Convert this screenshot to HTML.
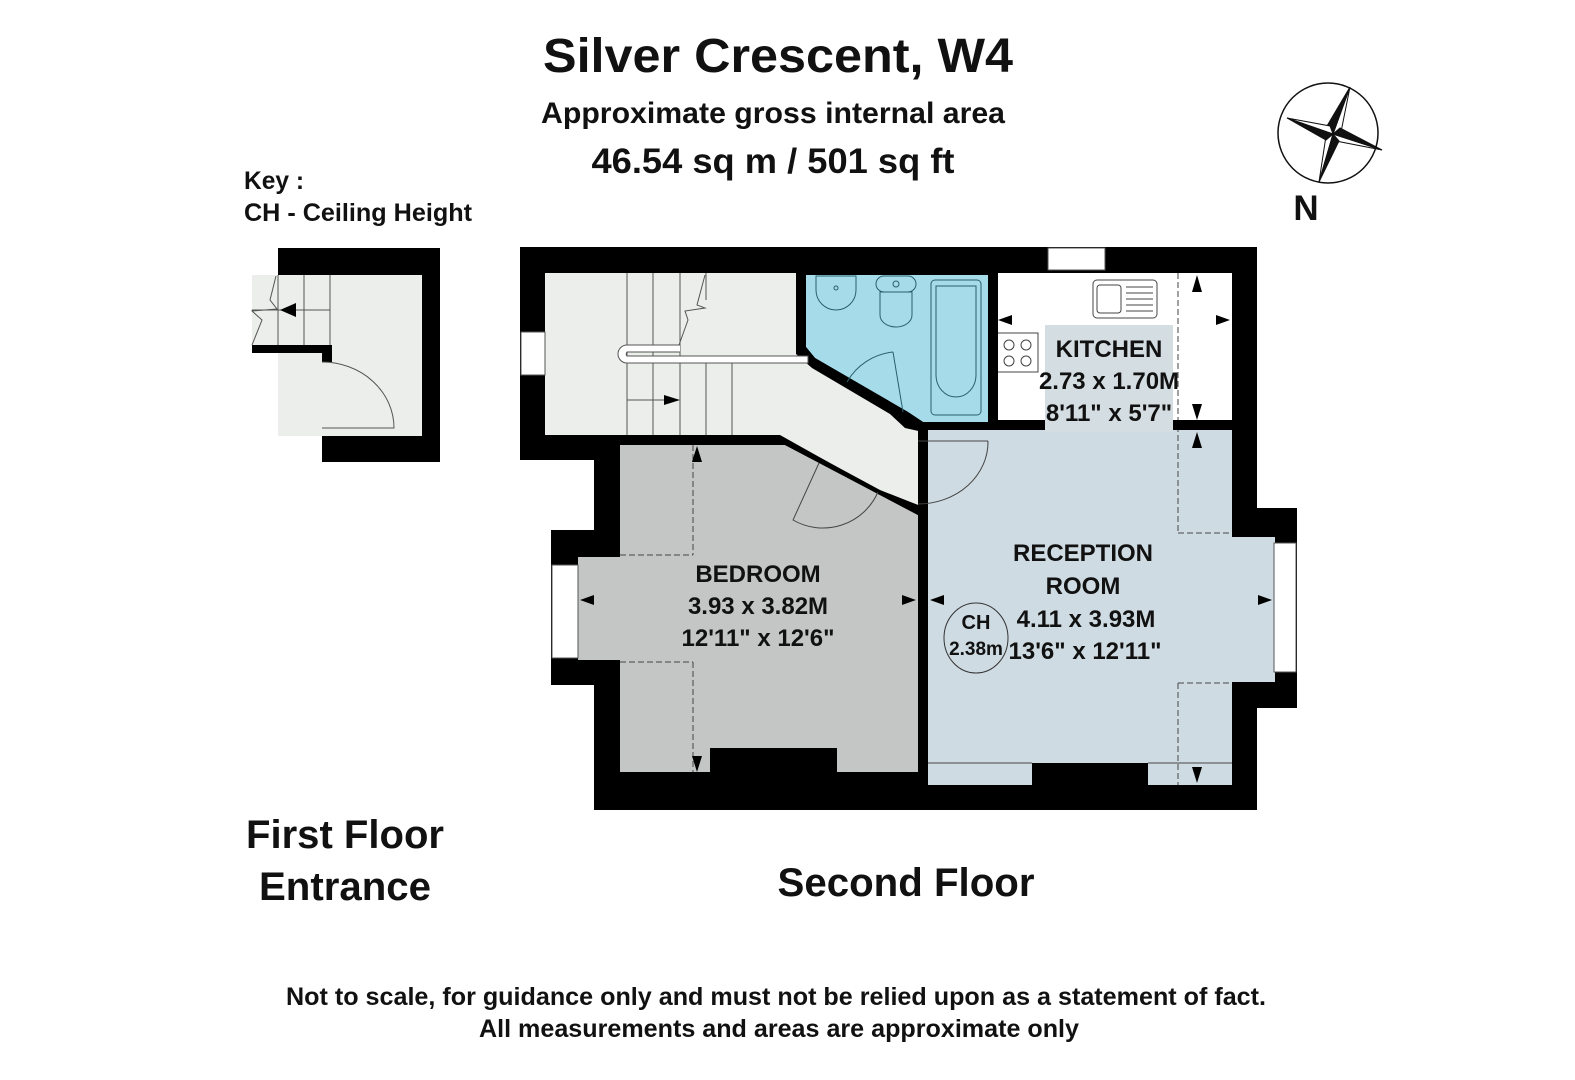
<!DOCTYPE html>
<html><head><meta charset="utf-8"><style>
html,body{margin:0;padding:0;background:#fff;}
svg{display:block;}
text{font-family:"Liberation Sans Narrow","Liberation Sans",sans-serif;font-weight:bold;fill:#111;}
</style></head><body>
<svg width="1575" height="1080" viewBox="0 0 1575 1080" xmlns="http://www.w3.org/2000/svg">
<rect width="1575" height="1080" fill="#fff"/>
<text x="778" y="72" font-size="48" text-anchor="middle" textLength="470" lengthAdjust="spacingAndGlyphs">Silver Crescent, W4</text>
<text x="773" y="123" font-size="30" text-anchor="middle" textLength="464" lengthAdjust="spacingAndGlyphs">Approximate gross internal area</text>
<text x="773" y="173" font-size="35" text-anchor="middle" textLength="363" lengthAdjust="spacingAndGlyphs">46.54 sq m /  501 sq ft</text>
<text x="244" y="189" font-size="25" textLength="60" lengthAdjust="spacingAndGlyphs">Key :</text>
<text x="244" y="221" font-size="25" textLength="228" lengthAdjust="spacingAndGlyphs">CH - Ceiling Height</text>

<circle cx="1328" cy="133" r="50" fill="#fff" stroke="#111" stroke-width="1.5"/>
<g stroke="#111" stroke-width="1">
<polygon points="1350,87 1341,132 1333,134" fill="#fff"/>
<polygon points="1350,87 1327,126 1333,134" fill="#111"/>
<polygon points="1382,150 1336,141 1333,134" fill="#fff"/>
<polygon points="1382,150 1340,128 1333,134" fill="#111"/>
<polygon points="1319,182 1326,136 1333,134" fill="#fff"/>
<polygon points="1319,182 1339,141 1333,134" fill="#111"/>
<polygon points="1287,118 1330,126 1333,134" fill="#fff"/>
<polygon points="1287,118 1326,140 1333,134" fill="#111"/>
</g>
<text x="1306" y="220" font-size="35" text-anchor="middle">N</text>

<!-- entrance -->
<rect x="278" y="248" width="162" height="214" fill="#000"/>
<rect x="240" y="353" width="82" height="110" fill="#fff"/>
<rect x="278" y="275" width="144" height="161" fill="#ebeeea"/>
<rect x="252" y="275" width="80" height="70" fill="#ebeeea"/>
<rect x="332" y="353" width="90" height="83" fill="#ebeeea"/>
<rect x="252" y="345" width="80" height="8" fill="#000"/>
<rect x="322" y="353" width="10" height="10" fill="#000"/>
<rect x="322" y="362" width="12" height="66" fill="#ebeeea"/>
<g stroke="#555" stroke-width="1" fill="none">
<line x1="304" y1="275" x2="304" y2="345"/><line x1="330" y1="275" x2="330" y2="345"/>
<line x1="278" y1="275" x2="278" y2="345"/><line x1="252" y1="310" x2="330" y2="310"/>
<polyline points="276,276 270,300 277,309 252,311 262,320 252,345"/>
<path d="M322,362 A72,66 0 0 1 394,428 L322,428"/>
</g>
<polygon points="280,310 296,303 296,317" fill="#000"/>

<polygon points="520,247 1257,247 1257,508 1297,508 1297,708 1257,708 1257,810 594,810 594,685 551,685 551,530 594,530 594,460 520,460" fill="#000"/>
<polygon points="545,273 796,273 796,348 815,362 905,416 918,430 918,505 878,490 780,435 545,435" fill="#ebeeea"/>
<polygon points="806,275 988,275 988,422 923,422 908,412 815,358 806,347" fill="#a6dcea"/>
<polygon points="796,348 806,347 815,358 908,412 923,422 923,432 905,428 890,414 812,368 796,354" fill="#000"/>
<rect x="998" y="273" width="234" height="147" fill="#fff"/>
<rect x="1045" y="325" width="128" height="105" fill="#d3dde2"/>
<polygon points="928,430 1232,430 1232,537 1275,537 1275,682 1232,682 1232,785 1148,785 1148,763 1032,763 1032,785 928,785" fill="#cfdbe2"/>
<rect x="1045" y="420" width="128" height="12" fill="#d3dde2"/>
<polygon points="620,445 785,445 918,515 918,772 837,772 837,748 710,748 710,772 620,772 620,660 578,660 578,557 620,557" fill="#c3c6c4"/>
<polygon points="785,445 918,515 918,505 880,490 780,436 620,436 620,445" fill="#000"/>
<rect x="918" y="430" width="10" height="343" fill="#000"/>
<polygon points="820,462 878,492 918,505 918,515 878,494" fill="#000"/>

<g fill="#fff" stroke="#555" stroke-width="1">
<rect x="1048" y="248" width="57" height="22"/>
<rect x="521" y="332" width="24" height="43"/>
<rect x="1274" y="543" width="22" height="129"/>
<rect x="552" y="565" width="26" height="93"/>
</g>
<g stroke="#555" stroke-width="1" fill="none">
<line x1="627" y1="273" x2="627" y2="435"/><line x1="653" y1="273" x2="653" y2="435"/>
<line x1="680" y1="273" x2="680" y2="435"/><line x1="706" y1="362" x2="706" y2="435"/>
<line x1="732" y1="362" x2="732" y2="435"/><line x1="706" y1="273" x2="706" y2="300"/>
<polyline points="705,275 697,305 705,308 685,311 688,320 679,345"/>
<path d="M680,345 L627,345 A9,9 0 0 0 627,363 L808,363 L808,356 L627,356 A3,3 0 0 1 627,352 L680,352" fill="#fff"/>
<line x1="627" y1="400" x2="665" y2="400"/>
</g>
<polygon points="680,400 664,395 664,405" fill="#000"/>
<g stroke="#2a5f6e" stroke-width="1" fill="none">
<path d="M816,276 L856,276 L856,290 A20,20 0 0 1 816,290 Z"/>
<circle cx="836" cy="288" r="2"/>
<rect x="876" y="276" width="40" height="16" rx="8"/>
<path d="M880,292 L912,292 L912,315 A16,12 0 0 1 880,315 Z"/>
<circle cx="896" cy="284" r="3"/>
<rect x="931" y="280" width="50" height="135" rx="4"/>
<path d="M936,286 L976,286 L976,375 A20,22 0 0 1 936,375 Z"/>
<path d="M893,352 A60,60 0 0 0 847,382 M893,352 L903,412"/>
</g>
<g stroke="#444" stroke-width="1" fill="none">
<rect x="1093" y="280" width="64" height="38" rx="4"/>
<rect x="1097" y="285" width="24" height="28" rx="3"/>
<line x1="1126" y1="287" x2="1153" y2="287"/><line x1="1126" y1="293" x2="1153" y2="293"/>
<line x1="1126" y1="299" x2="1153" y2="299"/><line x1="1126" y1="305" x2="1153" y2="305"/>
<line x1="1126" y1="311" x2="1153" y2="311"/>
<rect x="997" y="333" width="41" height="39" fill="#fff"/>
<circle cx="1009" cy="345" r="5"/><circle cx="1026" cy="345" r="5"/>
<circle cx="1009" cy="361" r="5"/><circle cx="1026" cy="361" r="5"/>
<line x1="1178" y1="273" x2="1178" y2="533" stroke-dasharray="6,3"/>
<line x1="1178" y1="683" x2="1178" y2="785" stroke-dasharray="6,3"/>
<polyline points="1178,533 1232,533" stroke-dasharray="6,3"/>
<polyline points="1178,683 1232,683" stroke-dasharray="6,3"/>
<line x1="693" y1="445" x2="693" y2="555" stroke-dasharray="6,3"/>
<line x1="620" y1="555" x2="693" y2="555" stroke-dasharray="6,3"/>
<line x1="693" y1="662" x2="693" y2="772" stroke-dasharray="6,3"/>
<line x1="620" y1="662" x2="693" y2="662" stroke-dasharray="6,3"/>
<line x1="928" y1="763" x2="1032" y2="763"/><line x1="1148" y1="763" x2="1232" y2="763"/>
<path d="M988,441 A70,62 0 0 1 918,504 M918,441 L988,441"/>
<path d="M819,463 L793,520 A60,60 0 0 0 878,492"/>
</g>
<rect x="990" y="420" width="55" height="10" fill="#000"/>
<rect x="1173" y="420" width="60" height="10" fill="#000"/>
<rect x="988" y="273" width="10" height="150" fill="#000"/>
<g fill="#000">
<polygon points="998,320 1012,315 1012,325"/><polygon points="1230,320 1216,315 1216,325"/>
<polygon points="1197,275 1192,292 1202,292"/><polygon points="1197,420 1192,404 1202,404"/>
<polygon points="1197,432 1192,448 1202,448"/><polygon points="1197,783 1192,767 1202,767"/>
<polygon points="580,600 594,595 594,605"/><polygon points="916,600 902,595 902,605"/>
<polygon points="930,600 944,595 944,605"/><polygon points="1272,600 1258,595 1258,605"/>
<polygon points="697,446 692,462 702,462"/><polygon points="697,772 692,756 702,756"/>
</g>
<ellipse cx="976" cy="638" rx="32" ry="35" fill="none" stroke="#333" stroke-width="1"/>
<g font-size="24" text-anchor="middle">
<text x="1109" y="357">KITCHEN</text>
<text x="1109" y="389">2.73 x 1.70M</text>
<text x="1109" y="421">8'11" x 5'7"</text>
<text x="758" y="582">BEDROOM</text>
<text x="758" y="614">3.93 x 3.82M</text>
<text x="758" y="646">12'11" x 12'6"</text>
<text x="1083" y="561">RECEPTION</text>
<text x="1083" y="594">ROOM</text>
<text x="1086" y="627">4.11 x 3.93M</text>
<text x="1085" y="659">13'6" x 12'11"</text>
<text x="976" y="629" font-size="20">CH</text>
<text x="976" y="655" font-size="19">2.38m</text>
</g>
<text x="345" y="848" font-size="40" text-anchor="middle" textLength="198" lengthAdjust="spacingAndGlyphs">First Floor</text>
<text x="345" y="900" font-size="40" text-anchor="middle" textLength="172" lengthAdjust="spacingAndGlyphs">Entrance</text>
<text x="906" y="896" font-size="40" text-anchor="middle" textLength="257" lengthAdjust="spacingAndGlyphs">Second Floor</text>
<text x="776" y="1005" font-size="25" text-anchor="middle" textLength="980" lengthAdjust="spacingAndGlyphs">Not to scale, for guidance only and must not be relied upon as a statement of fact.</text>
<text x="779" y="1037" font-size="25" text-anchor="middle" textLength="600" lengthAdjust="spacingAndGlyphs">All measurements and areas are approximate only</text>
</svg>
</body></html>
